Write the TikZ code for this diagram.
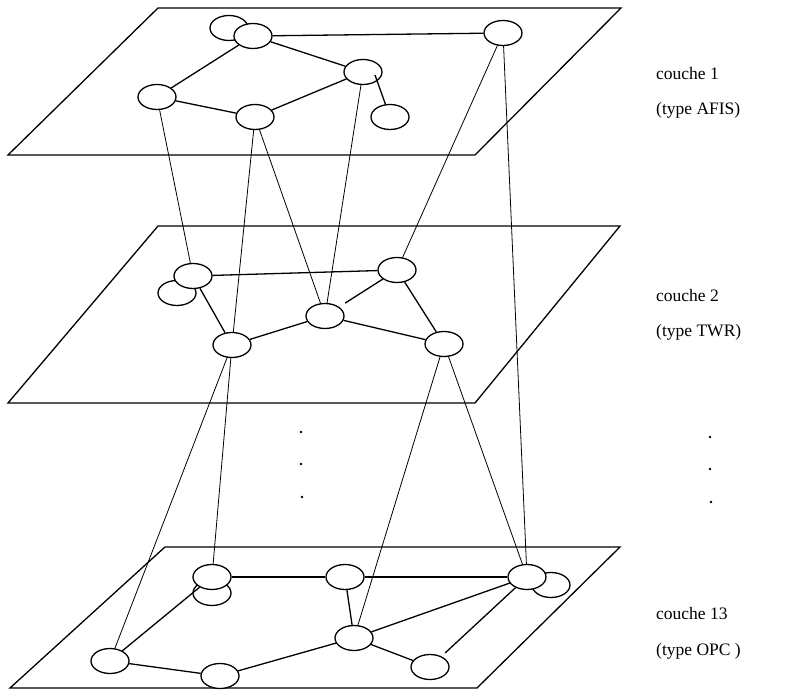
\documentclass[tikz,border=0pt]{standalone}
\usepackage{fontspec}
\setmainfont{Liberation Serif}
\usetikzlibrary{shapes.geometric}
\begin{document}
\begin{tikzpicture}[x=1pt,y=-1pt,
  nd/.style={ellipse,draw,line width=1.3pt,minimum width=38pt,minimum height=25pt,inner sep=0pt,fill=white},
  plane/.style={draw,line width=1.3pt,line join=miter},
  edge/.style={line width=1.3pt},
  link/.style={line width=0.8pt},
  lbl/.style={anchor=west,font=\fontsize{17.5}{20}\selectfont,inner sep=0pt},
  dot/.style={circle,fill,inner sep=0pt,minimum size=2.6pt}]
\useasboundingbox (0,0) rectangle (806,700);
% planes
\draw[plane] (158,8) -- (621,8) -- (475,155) -- (8,155) -- cycle;
\draw[plane] (158,226) -- (620,226) -- (475,403) -- (8,403) -- cycle;
\draw[plane] (165,547) -- (620,547) -- (477,688) -- (10,688) -- cycle;
% layer 1
\node[nd] (a1) at (229,28) {};
\node[nd] (a2) at (253,36) {};
\node[nd] (a3) at (503,33) {};
\node[nd] (a4) at (363,72) {};
\node[nd] (a5) at (157,97) {};
\node[nd] (a6) at (255,117) {};
\node[nd] (a7) at (390,117) {};
% layer 2
\node[nd] (b0) at (177,293) {};
\node[nd] (b1) at (193,276) {};
\node[nd] (b2) at (397,270) {};
\node[nd] (b3) at (325,316) {};
\node[nd] (b4) at (232,345) {};
\node[nd] (b5) at (444,344) {};
% layer 13
\node[nd] (c0) at (212,593) {};
\node[nd] (c1) at (212,577) {};
\node[nd] (c2) at (345,577) {};
\node[nd] (c3b) at (551,585) {};
\node[nd] (c3) at (527,577) {};
\node[nd] (c4) at (354,638) {};
\node[nd] (c5) at (110,661) {};
\node[nd] (c6) at (220,676) {};
\node[nd] (c7) at (430,667) {};
% edges within layers
\draw[edge] (a2) -- (a3);
\draw[edge] (a2) -- (a5);
\draw[edge] (a2) -- (a4);
\draw[edge] (a5) -- (a6);
\draw[edge] (a6) -- (a4);
\draw[edge] ([shift={(12,3)}]a4.center) -- (a7);
\draw[edge] (b1) -- (b2);
\draw[edge] (b1) -- (b4);
\draw[edge] (b4) -- (b3);
\draw[edge] (b3) -- (b5);
\draw[edge] (b2) -- (b5);
\draw[edge,shorten >=7pt] (b2) -- (b3);
\draw[edge] (c1) -- (c2);
\draw[edge] (c2) -- (c3);
\draw[edge] (c1) -- (c5);
\draw[edge] (c5) -- (c6);
\draw[edge] (c6) -- (c4);
\draw[edge] (c4) -- (c2);
\draw[edge] (c4) -- (c3);
\draw[edge] (c4) -- (c7);
\draw[edge,shorten >=5pt] (c3) -- (c7);
% links between layers
\draw[link] (a5) -- (b1);
\draw[link] (a6) -- (b4);
\draw[link] (a6) -- (b3);
\draw[link] (a4) -- (b3);
\draw[link] (a3) -- (b2);
\draw[link] (a3) -- (c3);
\draw[link] (b4) -- (c5);
\draw[link] (b4) -- (c1);
\draw[link] (b5) -- (c4);
\draw[link] (b5) -- (c3);
% dots
\node[dot] (d1) at (301,432) {};
\node[dot] (d2) at (301,464) {};
\node[dot] (d3) at (302,497) {};
\node[dot] (e1) at (710,437) {};
\node[dot] (e2) at (710,469) {};
\node[dot] (e3) at (711,502) {};
% labels
\node[lbl] (l1) at (656,74) {couche 1};
\node[lbl] (t1) at (656,110) {(type AFIS)};
\node[lbl] (l2) at (656,296) {couche 2};
\node[lbl] (t2) at (656,332) {(type TWR)};
\node[lbl] (l3) at (656,614) {couche 13};
\node[lbl] (t3) at (656,651) {(type OPC )};
\end{tikzpicture}
\end{document}
